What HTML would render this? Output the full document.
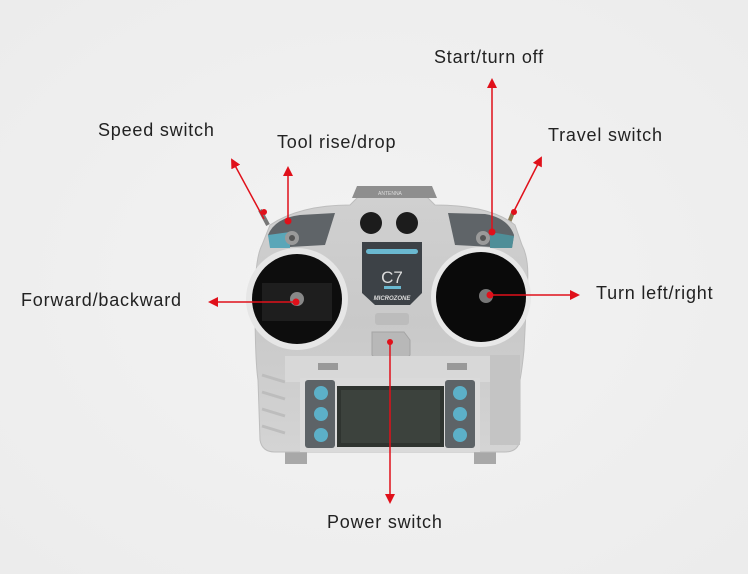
<!DOCTYPE html>
<html><head><meta charset="utf-8"><style>
html,body{margin:0;padding:0;background:#efefef}
svg{display:block}
text{font-family:"Liberation Sans",sans-serif;fill:#222;font-size:18px;letter-spacing:0.8px}
</style></head><body>
<svg width="748" height="574" viewBox="0 0 748 574">
<defs>
<marker id="a" markerWidth="10" markerHeight="10" refX="8" refY="5" orient="auto" markerUnits="userSpaceOnUse"><path d="M0,0 L10,5 L0,10 Z" fill="#e0101a"/></marker>
<radialGradient id="bg" cx="50%" cy="50%" r="70%"><stop offset="0" stop-color="#f3f3f3"/><stop offset="1" stop-color="#ececec"/></radialGradient>
<linearGradient id="body" x1="0" y1="0" x2="0" y2="1"><stop offset="0" stop-color="#d0d0d0"/><stop offset=".5" stop-color="#c9c9c9"/><stop offset="1" stop-color="#d4d4d4"/></linearGradient>
</defs>
<rect width="748" height="574" fill="url(#bg)"/>
<line x1="260" y1="210" x2="268" y2="225" stroke="#777" stroke-width="4"/>
<line x1="514" y1="210" x2="508" y2="225" stroke="#8a7b55" stroke-width="4"/>
<rect x="285" y="440" width="22" height="24" fill="#a8a8a8"/>
<rect x="474" y="440" width="22" height="24" fill="#a8a8a8"/>
<path d="M270,225 Q300,205 350,205 L360,195 L425,195 L435,205 Q490,205 515,225 L522,245 Q530,260 527,290 L524,350 Q522,370 520,380 L520,440 Q518,452 505,452 L275,452 Q262,452 260,440 L258,380 Q255,360 255,300 Q255,258 262,245 Z" fill="url(#body)" stroke="#bdbdbd"/>
<path d="M357,186 L432,186 L437,198 L352,198 Z" fill="#8e8e8e"/>
<text x="378" y="195" style="font-size:5px;fill:#ddd;letter-spacing:0">ANTENNA</text>
<path d="M268,235 Q275,218 300,215 L335,213 L325,245 L272,248 Z" fill="#5f6468"/>
<path d="M268,235 L290,232 L290,248 L270,248 Z" fill="#5aa6b8"/>
<path d="M448,213 L485,214 Q508,218 514,235 L512,248 L455,245 Z" fill="#5f6468"/>
<path d="M490,232 L514,236 L512,248 L490,248 Z" fill="#4f8e98"/>
<circle cx="292" cy="238" r="7" fill="#9a9a9a"/><circle cx="292" cy="238" r="3" fill="#555"/>
<circle cx="483" cy="238" r="7" fill="#9a9a9a"/><circle cx="483" cy="238" r="3" fill="#555"/>
<circle cx="371" cy="223" r="11" fill="#1c1c1c"/>
<circle cx="407" cy="223" r="11" fill="#1c1c1c"/>
<path d="M362,242 L422,242 L422,293 L410,305 L375,305 L362,293 Z" fill="#3d4247"/>
<rect x="366" y="249" width="52" height="5" rx="2.5" fill="#6ab8d0"/>
<text x="392" y="283" text-anchor="middle" style="font-size:17px;fill:#ddd;letter-spacing:0">C7</text>
<rect x="384" y="286" width="17" height="3" fill="#6ab8d0"/>
<text x="392" y="300" text-anchor="middle" style="font-size:6px;fill:#ddd;font-style:italic;font-weight:bold;letter-spacing:0">MICROZONE</text>
<rect x="375" y="313" width="34" height="12" rx="3" fill="#bcbcbc"/>
<path d="M372,332 L404,332 L410,340 L410,355 L404,362 L378,362 L372,355 Z" fill="#b8b8b8" stroke="#a5a5a5"/>
<circle cx="297" cy="299" r="51" fill="#e6e6e6"/>
<circle cx="297" cy="299" r="45" fill="#0d0d0d"/>
<rect x="262" y="283" width="70" height="38" fill="#1e1e1e"/>
<circle cx="297" cy="299" r="7" fill="#888"/>
<circle cx="481" cy="297" r="50" fill="#e8e8e8"/>
<circle cx="481" cy="297" r="45" fill="#0a0a0a"/>
<circle cx="486" cy="296" r="7" fill="#777"/>
<rect x="285" y="356" width="212" height="26" fill="#d8d8d8"/>
<rect x="318" y="363" width="20" height="7" fill="#999"/><rect x="447" y="363" width="20" height="7" fill="#999"/>
<rect x="300" y="378" width="180" height="74" fill="#dadada"/>
<rect x="305" y="380" width="30" height="68" rx="3" fill="#5d6367"/>
<rect x="445" y="380" width="30" height="68" rx="3" fill="#5d6367"/>
<circle cx="321" cy="393" r="7" fill="#5cb0c8"/><circle cx="321" cy="414" r="7" fill="#5cb0c8"/><circle cx="321" cy="435" r="7" fill="#5cb0c8"/>
<circle cx="460" cy="393" r="7" fill="#5cb0c8"/><circle cx="460" cy="414" r="7" fill="#5cb0c8"/><circle cx="460" cy="435" r="7" fill="#5cb0c8"/>
<rect x="337" y="386" width="107" height="61" fill="#2f3430"/>
<rect x="341" y="390" width="99" height="53" fill="#3c423d"/>
<g stroke="#bdbdbd" stroke-width="3" fill="none">
<path d="M262,375 L285,382"/><path d="M262,392 L285,399"/><path d="M262,409 L285,416"/><path d="M262,426 L285,433"/>
</g>
<rect x="490" y="355" width="30" height="90" fill="#c4c4c4"/>
<g stroke="#e0101a" stroke-width="1.5" fill="none">
<line x1="264" y1="219" x2="232" y2="160" marker-end="url(#a)"/>
<line x1="288" y1="223" x2="288" y2="168" marker-end="url(#a)"/>
<line x1="492" y1="233" x2="492" y2="80" marker-end="url(#a)"/>
<line x1="513" y1="213" x2="541" y2="158" marker-end="url(#a)"/>
<line x1="296" y1="302" x2="210" y2="302" marker-end="url(#a)"/>
<line x1="490" y1="295" x2="578" y2="295" marker-end="url(#a)"/>
<line x1="390" y1="342" x2="390" y2="502" marker-end="url(#a)"/>
</g>
<g fill="#e0101a">
<circle cx="264" cy="212" r="3"/><circle cx="288" cy="221" r="3.5"/><circle cx="492" cy="232" r="3.5"/>
<circle cx="514" cy="212" r="3"/><circle cx="296" cy="302" r="3.5"/><circle cx="490" cy="295" r="3.5"/><circle cx="390" cy="342" r="3"/>
</g>
<text x="98" y="136">Speed switch</text>
<text x="277" y="148">Tool rise/drop</text>
<text x="434" y="63">Start/turn off</text>
<text x="548" y="141">Travel switch</text>
<text x="21" y="306">Forward/backward</text>
<text x="596" y="299">Turn left/right</text>
<text x="327" y="528">Power switch</text>
</svg>
</body></html>
